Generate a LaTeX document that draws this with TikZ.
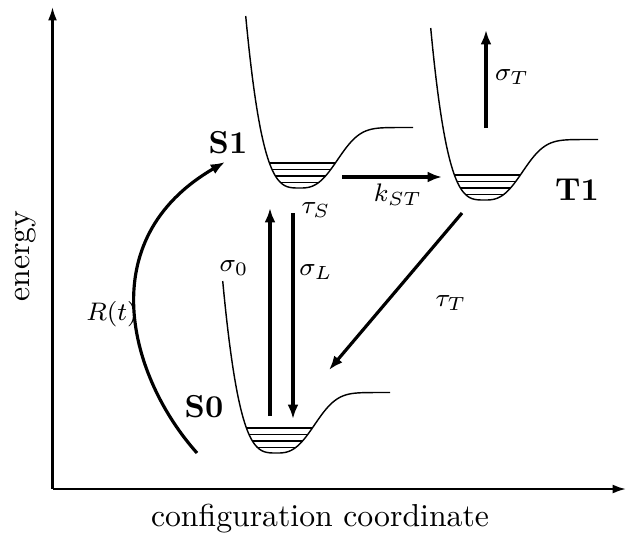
\documentclass[tikz,border=0pt]{standalone}
\usetikzlibrary{arrows.meta}
\tikzset{
  wellcurve/.style={line width=0.45pt},
  bigarrow/.style={line width=1pt,-{Latex[length=4.5pt,width=3.4pt]}},
  axisarrow/.style={line width=0.65pt,-{Latex[length=4.2pt,width=2.8pt]}},
  statelbl/.style={font=\bfseries,inner sep=0pt},
  mathlbl/.style={inner sep=0pt,font=\footnotesize},
  well/.pic={
    \draw[wellcurve] plot[domain=54.3:0.3,samples=50] (-\x,{-6*pow(\x/20,3.36)})
      -- plot[domain=0.3:113,samples=60] (\x,{-60.5*(1-exp(-1*pow(\x/44.6,2.7)))});
    \begin{scope}
      \clip plot[domain=54.3:0.3,samples=50] (-\x,{-6*pow(\x/20,3.36)})
        -- plot[domain=0.3:113,samples=60] (\x,{-60.5*(1-exp(-1*pow(\x/44.6,2.7)))}) -- cycle;
      \foreach \h in {5.5,12,18.5,25} \draw[wellcurve] (-45,-\h) -- (60,-\h);
    \end{scope}
  }
}
\begin{document}
\begin{tikzpicture}[x=0.315pt,y=-0.315pt]
\useasboundingbox (0,0) rectangle (628,546);
% axes
\coordinate (origin) at (52.5,489);
\coordinate (ytop) at (52.5,7);
\coordinate (xend) at (626,489);
\draw[axisarrow] (origin) -- (ytop);
\draw[axisarrow] (origin) -- (xend);
\node[rotate=90] (energy) at (26,256) {energy};
\node (config) at (320,519) {configuration coordinate};
% wells
\pic (s1well) at (300,188) {well};
\pic (t1well) at (485,200) {well};
\pic (s0well) at (277,453) {well};
% state labels
\node[statelbl] (S1) at (228,143) {S1};
\node[statelbl] (T1) at (577,190) {T1};
\node[statelbl] (S0) at (204,407) {S0};
% arrow end points
\coordinate (sTa) at (486,128);
\coordinate (sTb) at (486,30);
\coordinate (kSTa) at (342,177);
\coordinate (kSTb) at (442,177);
\coordinate (s0a) at (270,416);
\coordinate (s0b) at (270,208);
\coordinate (sLa) at (293,213);
\coordinate (sLb) at (293,419);
\coordinate (tTa) at (462,213);
\coordinate (tTb) at (329,370);
\coordinate (Ra) at (197,453);
\coordinate (Rb) at (225,162);
% arrows
\draw[bigarrow] (sTa) -- (sTb);
\draw[bigarrow] (kSTa) -- (kSTb);
\draw[bigarrow] (s0a) -- (s0b);
\draw[bigarrow] (sLa) -- (sLb);
\draw[bigarrow] (tTa) -- (tTb);
\draw[bigarrow] (Ra) .. controls (130,378) and (90,240) .. (Rb);
% labels
\node[mathlbl] (lsT) at (512,77) {$\sigma_T$};
\node[mathlbl] (lkST) at (398,195) {$k_{ST}$};
\node[mathlbl] (ltS) at (316,210) {$\tau_S$};
\node[mathlbl] (ls0) at (234,268) {$\sigma_0$};
\node[mathlbl] (lsL) at (316,272) {$\sigma_L$};
\node[mathlbl] (ltT) at (451,303) {$\tau_T$};
\node[mathlbl] (lR) at (112,314) {$R(t)$};
\end{tikzpicture}
\end{document}
